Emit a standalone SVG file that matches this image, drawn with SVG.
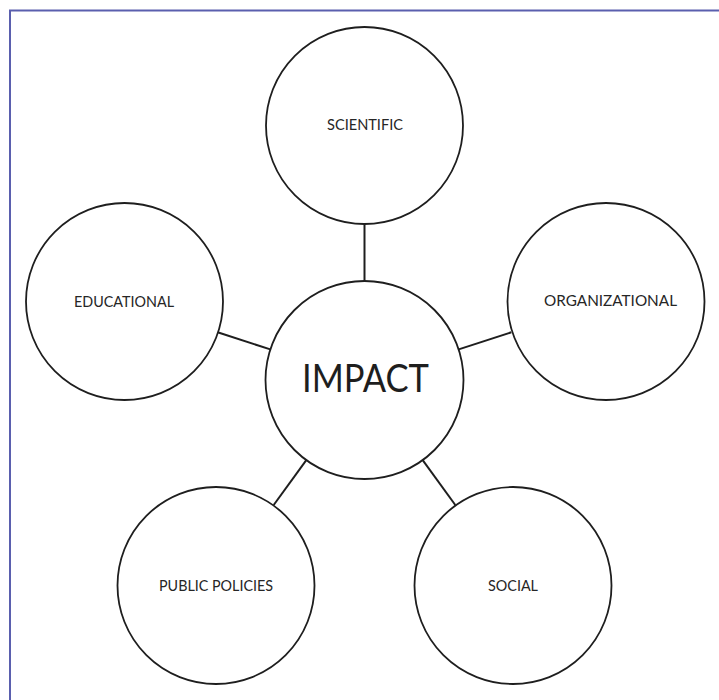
<svg xmlns="http://www.w3.org/2000/svg" width="719" height="700" viewBox="0 0 719 700">
<style>
.node circle{fill:#fff;stroke:#1e1e1e;stroke-width:1.8}
.lbl{font-family:Lato,"Open Sans","Liberation Sans",sans-serif;font-size:15.5px;fill:#262626}
.big{font-family:Lato,"Open Sans","Liberation Sans",sans-serif;font-size:38px;fill:#1e1e1e}
#connectors line{stroke:#1e1e1e;stroke-width:2}
</style>
<rect x="0" y="0" width="719" height="700" fill="#fff"/>
<path d="M10 700 V10.5 H719" fill="none" stroke="#5a5fae" stroke-width="2"/>
<g id="connectors">
<line x1="364.5" y1="281" x2="364.5" y2="224"/>
<line x1="270.3" y1="349.4" x2="217.6" y2="332.3"/>
<line x1="458.7" y1="349.4" x2="511.4" y2="332.3"/>
<line x1="306.3" y1="460.1" x2="273.7" y2="505"/>
<line x1="422.7" y1="460.1" x2="455.3" y2="505"/>
</g>
<g id="impact" class="node"><circle cx="364.5" cy="380" r="99"/><text class="big" x="302" y="392" textLength="127" lengthAdjust="spacingAndGlyphs">IMPACT</text></g>
<g id="scientific" class="node"><circle cx="364.5" cy="125.5" r="98.5"/><text class="lbl" x="327" y="130" textLength="76" lengthAdjust="spacingAndGlyphs">SCIENTIFIC</text></g>
<g id="educational" class="node"><circle cx="124.5" cy="301.5" r="98.5"/><text class="lbl" x="74" y="307" textLength="100" lengthAdjust="spacingAndGlyphs">EDUCATIONAL</text></g>
<g id="organizational" class="node"><circle cx="606" cy="301.5" r="98.5"/><text class="lbl" x="544" y="306" textLength="133" lengthAdjust="spacingAndGlyphs">ORGANIZATIONAL</text></g>
<g id="public-policies" class="node"><circle cx="216" cy="585.5" r="98.5"/><text class="lbl" x="159" y="591" textLength="114" lengthAdjust="spacingAndGlyphs">PUBLIC POLICIES</text></g>
<g id="social" class="node"><circle cx="513" cy="585.5" r="98.5"/><text class="lbl" x="488" y="591" textLength="50" lengthAdjust="spacingAndGlyphs">SOCIAL</text></g>
</svg>
